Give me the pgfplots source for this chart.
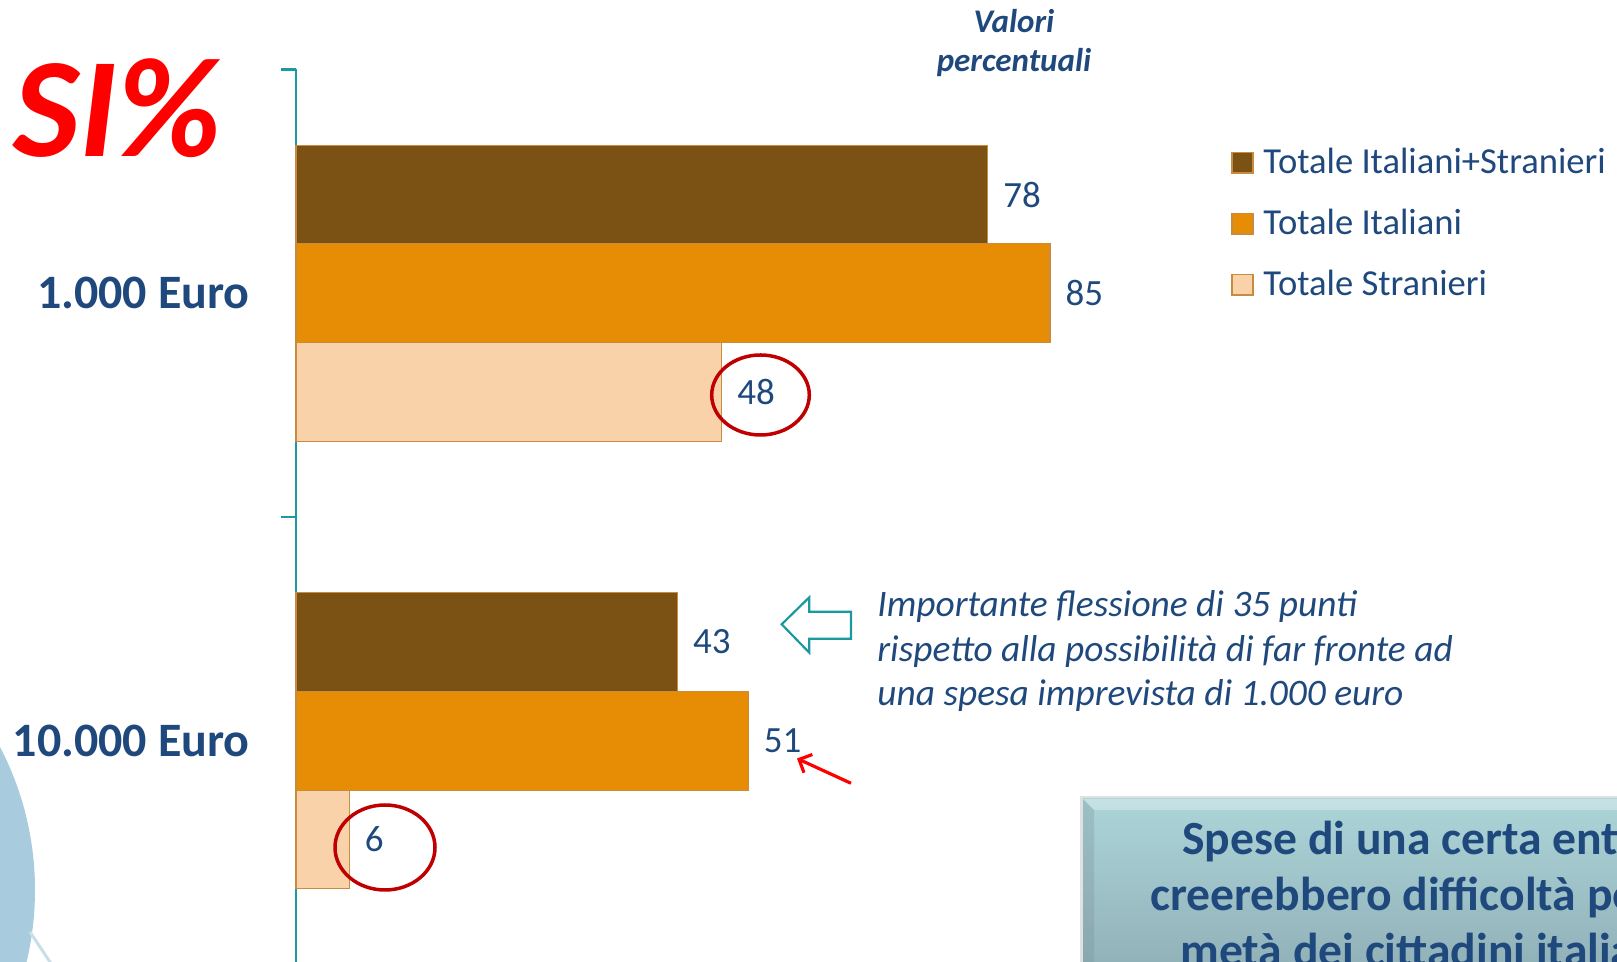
\documentclass[border=0pt]{standalone}
\usepackage{pgfplots}
\pgfplotsset{compat=1.18}
\usepackage{fontspec}
\setmainfont{Carlito}
\usetikzlibrary{arrows.meta}

\definecolor{cdark}{RGB}{123,82,20}
\definecolor{corange}{RGB}{230,140,5}
\definecolor{clight}{RGB}{250,210,170}
\definecolor{cedge}{RGB}{200,140,65}
\definecolor{textblue}{RGB}{31,73,125}
\definecolor{tealaxis}{RGB}{26,154,158}
\definecolor{cred}{RGB}{192,0,0}
\definecolor{circblue}{RGB}{168,204,222}
\definecolor{circline}{RGB}{200,222,234}
\definecolor{boxtop}{RGB}{172,213,216}
\definecolor{boxbot}{RGB}{140,170,178}

\begin{document}
\begin{tikzpicture}
\useasboundingbox (0,0) rectangle (808.5pt,481pt);
\clip (0,0) rectangle (808.5pt,481pt);

% decorations behind the chart (pixel grid, y downwards)
\begin{scope}[x=0.5pt,y=-0.5pt,yshift=481pt]
  \fill[circblue] (-274.6,890) circle[radius=309.6];
  \draw[circline, line width=1.5pt] (30,932) -- (56,971);
\end{scope}

% one category = 447.5px = 223.75pt, bar shift 0.2206 -> 49.36pt
\begin{axis}[
  at={(148pt,-1.25pt)}, anchor=south west,
  scale only axis, width=443.5pt, height=447.5pt,
  xmin=0, xmax=100, ymin=-0.5, ymax=1.5,
  axis x line=none, axis y line*=left,
  ytick={-0.5,0.5,1.5}, yticklabels={},
  tick align=outside, major tick length=7.5pt,
  y axis line style={tealaxis, line width=1.2pt},
  ytick style={tealaxis, line width=1.2pt},
  clip=false,
  bar width=0.2206,
  point meta=x,
  /pgf/number format/assume math mode=true,
  nodes near coords,
  nodes near coords align=horizontal,
  every node near coord/.append style={font=\fontsize{18.5}{22}\selectfont,
    text=textblue, anchor=west, inner sep=0pt, xshift=7.5pt},
]
\addplot[xbar, bar shift=0.2206, fill=cdark, draw=cedge, line width=0.6pt,
  nodes near coords style={yshift=49.36pt}]
  coordinates {(78,1) (43,0)};
\addplot[xbar, bar shift=0, fill=corange, draw=cedge, line width=0.6pt]
  coordinates {(85,1) (51,0)};
\addplot[xbar, bar shift=-0.2206, fill=clight, draw=cedge, line width=0.6pt,
  nodes near coords style={yshift=-49.36pt}]
  coordinates {(48,1) (6,0)};

\node[anchor=east, inner sep=0pt, xshift=-23pt, text=textblue,
  font=\bfseries\fontsize{24}{28}\selectfont] at (axis cs:0,1) {1.000 Euro};
\node[anchor=east, inner sep=0pt, xshift=-23pt, text=textblue,
  font=\bfseries\fontsize{24}{28}\selectfont] at (axis cs:0,0) {10.000 Euro};
\end{axis}

\begin{scope}[x=0.5pt,y=-0.5pt,yshift=481pt]
  % title mark
  \node[anchor=base west, inner sep=0pt, text=red,
    font=\bfseries\itshape\fontsize{71}{78}\selectfont] at (13,157) {SI\%};
  % units
  \node[anchor=base, inner sep=0pt, text=textblue,
    font=\bfseries\itshape\fontsize{16.5}{20}\selectfont] at (1014,33) {Valori};
  \node[anchor=base, inner sep=0pt, text=textblue,
    font=\bfseries\itshape\fontsize{16.5}{20}\selectfont] at (1014,71.5) {percentuali};

  % legend
  \foreach \yy/\cc/\tt in {173.5/cdark/Totale Italiani+Stranieri,
                           234.5/corange/Totale Italiani,
                           295.5/clight/Totale Stranieri}{
    \filldraw[fill=\cc, draw=cedge, line width=0.6pt]
      (1232,\yy-21) rectangle (1253,\yy-0.5);
    \node[anchor=base west, inner sep=0pt, text=textblue,
      font=\fontsize{18.3}{22}\selectfont] at (1263,\yy) {\tt};
  }

  % circles round the foreigners' values
  \draw[cred, line width=1.75pt] (760.5,395) ellipse[x radius=48.8, y radius=40];
  \draw[cred, line width=1.75pt] (385,847.5) ellipse[x radius=50, y radius=42.5];

  % annotation
  \draw[tealaxis, line width=1.1pt, line join=miter]
    (781.7,624.3) -- (809.3,597.3) -- (809.3,611.7) -- (851,611.7)
    -- (851,638.7) -- (809.3,638.7) -- (809.3,652.7) -- cycle;
  \foreach \yy/\tt in {617/Importante flessione di 35 punti,
                       661.5/rispetto alla possibilità di far fronte ad,
                       706/una spesa imprevista di 1.000 euro}{
    \node[anchor=base west, inner sep=0pt, text=textblue,
      font=\itshape\fontsize{18.7}{22}\selectfont] at (877,\yy) {\tt};
  }
  \draw[red, line width=1.6pt, -{Straight Barb[length=5pt,width=10pt]}]
    (851,783.3) -- (797,758.5);

  % conclusion box
  \fill[black, opacity=0.12] (1080,796) rectangle (1700,1000);
  \shade[top color=boxtop, bottom color=boxbot] (1083,799) rectangle (1700,1000);
  \fill[boxbot!85!black, opacity=0.3] (1083,799) -- (1094,810) -- (1094,1000) -- (1083,1000) -- cycle;
  \fill[white, opacity=0.3] (1083,799) -- (1700,799) -- (1700,810) -- (1094,810) -- cycle;
  \foreach \xx/\yy/\tt in {1182/854.5/Spese di una certa entità,
                           1150/910.5/creerebbero difficoltà per la,
                           1180/966.5/metà dei cittadini italiani}{
    \node[anchor=base west, inner sep=0pt, text=textblue,
      font=\bfseries\fontsize{23.8}{28}\selectfont] at (\xx,\yy) {\tt};
  }
\end{scope}
\end{tikzpicture}
\end{document}
